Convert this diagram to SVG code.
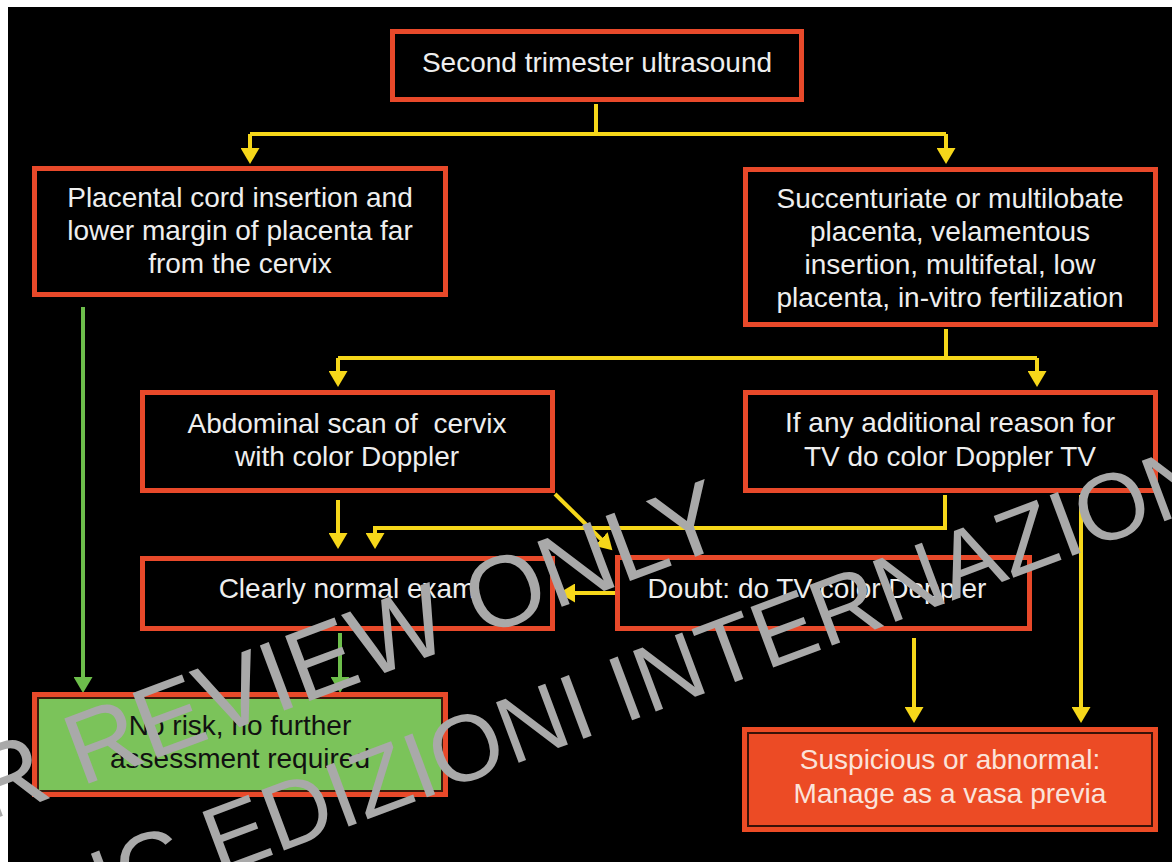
<svg xmlns="http://www.w3.org/2000/svg" width="1172" height="862" viewBox="0 0 1172 862">
  <defs>
    <style>
      .box { fill: #000000; stroke: #E8492A; stroke-width: 5; }
      .t { font-family: "Liberation Sans", Arial, sans-serif; font-size: 28px; fill: #EEEEEE; text-anchor: middle; }
      .tk { fill: #111111; }
      .tp { fill: #FBE3DA; }
      .y { fill: none; stroke: #F6D71A; stroke-width: 4; }
      .g { fill: none; stroke: #6DBE4B; stroke-width: 4; }
      .wm { font-family: "Liberation Sans", Arial, sans-serif; font-size: 101px; fill: #A9A9A9; }
    </style>
    <marker id="ay" markerWidth="17" markerHeight="19" refX="7" refY="9.5" orient="auto" markerUnits="userSpaceOnUse">
      <path d="M0,0 L16,9.5 L0,19 Z" fill="#F6D71A"/>
    </marker>
    <marker id="ag" markerWidth="17" markerHeight="19" refX="7" refY="9.5" orient="auto" markerUnits="userSpaceOnUse">
      <path d="M0,0 L16,9.5 L0,19 Z" fill="#6DBE4B"/>
    </marker>
  </defs>

  <rect x="0" y="0" width="1172" height="862" fill="#FFFFFF"/>
  <rect x="8" y="7" width="1164" height="855" fill="#000000"/>

  <g id="connectors">
    <path class="y" d="M596,104 V134"/>
    <path class="y" d="M250,134 H946"/>
    <path class="y" d="M250,134 V155" marker-end="url(#ay)"/>
    <path class="y" d="M946,134 V155" marker-end="url(#ay)"/>
    <path class="y" d="M946,329 V358"/>
    <path class="y" d="M338,358 H1037"/>
    <path class="y" d="M338,358 V378" marker-end="url(#ay)"/>
    <path class="y" d="M1037,358 V378" marker-end="url(#ay)"/>
    <path class="y" d="M338,500 V540" marker-end="url(#ay)"/>
    <path class="y" d="M945,495 V528 H375 V540" marker-end="url(#ay)"/>
    <path class="y" d="M555,494 L606,544" marker-end="url(#ay)"/>
    <path class="y" d="M615,593 H568" marker-end="url(#ay)"/>
    <path class="y" d="M914,638 V714" marker-end="url(#ay)"/>
    <path class="y" d="M1081,495 V714" marker-end="url(#ay)"/>
    <path class="g" d="M83,307 V684" marker-end="url(#ag)"/>
    <path class="g" d="M340,633 V684" marker-end="url(#ag)"/>
  </g>

  <g id="n1">
    <rect class="box" x="392.5" y="31.5" width="409" height="68"/>
    <text class="t" x="597" y="72">Second trimester ultrasound</text>
  </g>
  <g id="n2">
    <rect class="box" x="34.5" y="168.5" width="411" height="126"/>
    <text class="t" x="240" y="207">Placental cord insertion and</text>
    <text class="t" x="240" y="240">lower margin of placenta far</text>
    <text class="t" x="240" y="273">from the cervix</text>
  </g>
  <g id="n3">
    <rect class="box" x="745.5" y="169.5" width="410" height="155"/>
    <text class="t" x="950" y="208">Succenturiate or multilobate</text>
    <text class="t" x="950" y="241">placenta, velamentous</text>
    <text class="t" x="950" y="274">insertion, multifetal, low</text>
    <text class="t" x="950" y="307">placenta, in-vitro fertilization</text>
  </g>
  <g id="n4">
    <rect class="box" x="142.5" y="392.5" width="410" height="98"/>
    <text class="t" x="347" y="433" xml:space="preserve">Abdominal scan of  cervix</text>
    <text class="t" x="347" y="466">with color Doppler</text>
  </g>
  <g id="n5">
    <rect class="box" x="745.5" y="392.5" width="410" height="98"/>
    <text class="t" x="950" y="432">If any additional reason for</text>
    <text class="t" x="950" y="466">TV do color Doppler TV</text>
  </g>
  <g id="n6">
    <rect class="box" x="142.5" y="558.5" width="410" height="70"/>
    <text class="t" x="347" y="598">Clearly normal exam</text>
  </g>
  <g id="n7">
    <rect class="box" x="617.5" y="557.5" width="412" height="71"/>
    <text class="t" x="817" y="598">Doubt: do TV color Doppler</text>
  </g>
  <g id="n8">
    <rect x="32" y="692" width="416" height="105" fill="#E8492A"/>
    <rect x="38" y="698" width="404" height="93" fill="#7BC35A" stroke="#3A1A0C" stroke-width="2"/>
    <text class="t tk" x="240" y="735">No risk, no further</text>
    <text class="t tk" x="240" y="768">assessment required</text>
  </g>
  <g id="n9">
    <rect x="742" y="727" width="416" height="105" fill="#EC4B25"/>
    <rect x="748" y="733" width="404" height="93" fill="#EC4B25" stroke="#3A1208" stroke-width="2"/>
    <text class="t tp" x="950" y="769">Suspicious or abnormal:</text>
    <text class="t tp" x="950" y="803">Manage as a vasa previa</text>
  </g>

  <g id="watermark">
    <text class="wm" x="-145" y="871" transform="rotate(-20.5 -145 871)">FOR REVIEW ONLY</text>
    <text class="wm" x="42" y="941" font-size="94" style="font-size:94px" transform="rotate(-20.5 42 941)">CIC EDIZIONI INTERNAZIONALI</text>
  </g>
</svg>
